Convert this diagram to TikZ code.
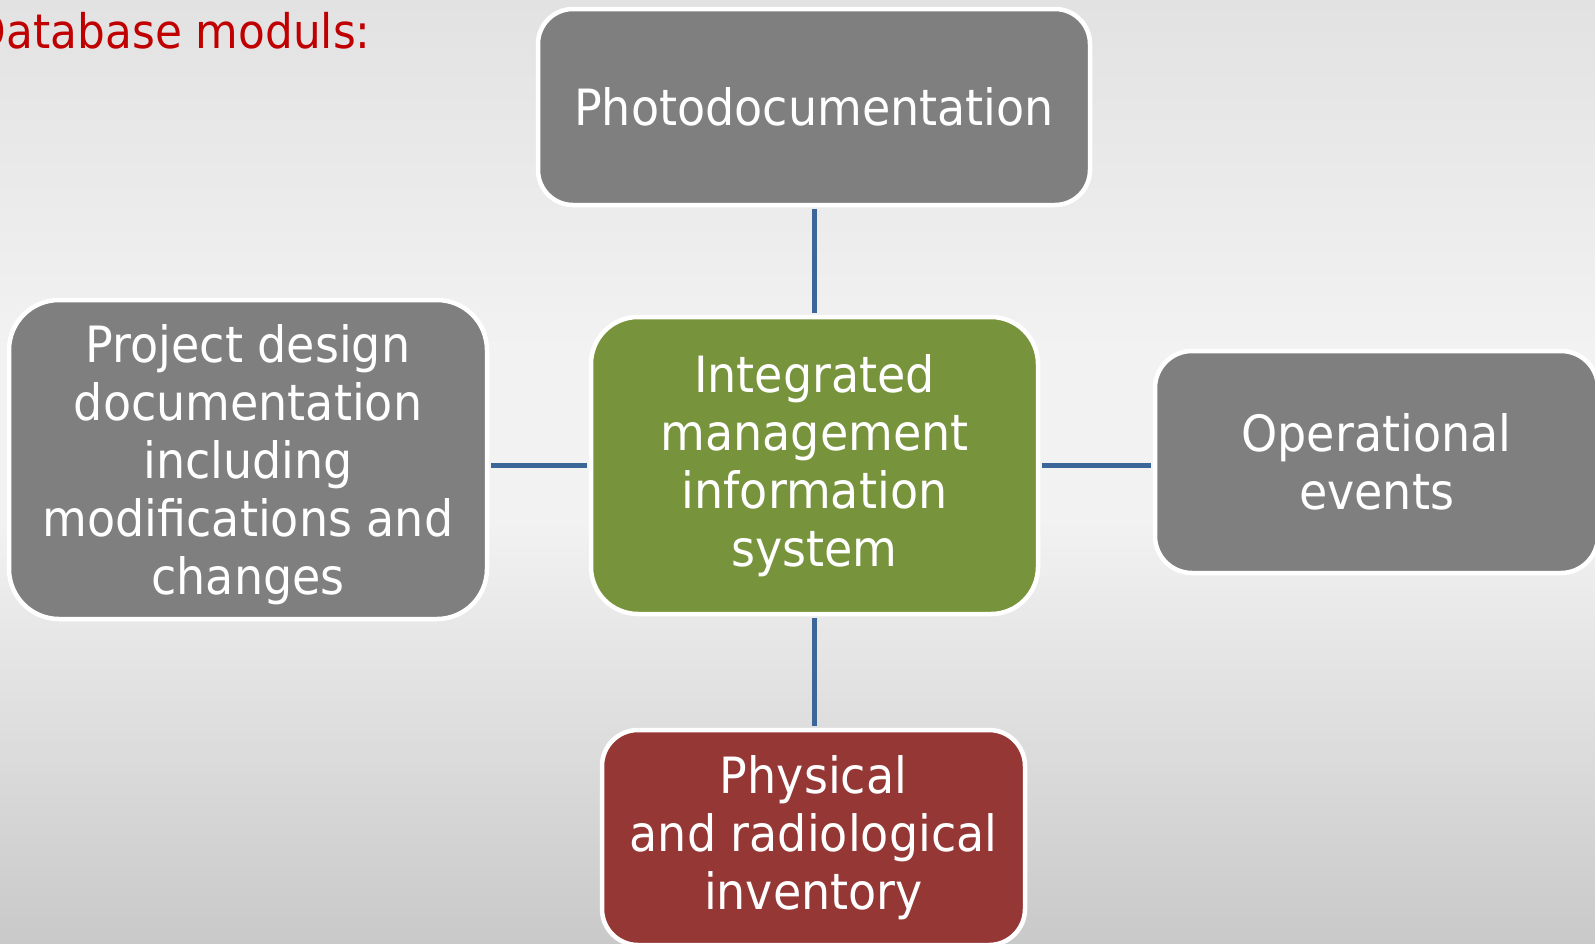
\documentclass[tikz,border=0pt]{standalone}
\usepackage{fontspec}
\setmainfont{DejaVu Sans}[FakeStretch=0.92]
\definecolor{boxgray}{RGB}{127,127,127}
\definecolor{boxgreen}{RGB}{119,147,60}
\definecolor{boxred}{RGB}{149,55,53}
\definecolor{titlered}{RGB}{192,0,0}
\definecolor{linkblue}{RGB}{60,102,152}
\definecolor{bgtop}{RGB}{226,226,226}
\definecolor{bgmid}{RGB}{242,242,242}
\definecolor{bgbot}{RGB}{201,201,201}
\tikzset{
  modbox/.style={draw=white, line width=2.25pt, rounded corners=#1, inner sep=0pt,
    align=center, text=white, font=\fontsize{25pt}{29pt}\selectfont},
  modbox/.default=18pt,
  link/.style={draw=linkblue, line width=2.75pt, shorten <=1pt, shorten >=1pt}
}
\begin{document}
\begin{tikzpicture}[x=0.5pt,y=-0.5pt]
\useasboundingbox (0,0) rectangle (1595,943);
% background
\fill[top color=bgtop, bottom color=bgmid, draw=none] (0,0) rectangle (1595,351);
\fill[bgmid] (0,350) rectangle (1595,521);
\fill[top color=bgmid, bottom color=bgbot, draw=none] (0,520) rectangle (1595,943);
% title
\node[anchor=base east, text=titlered, inner sep=0pt, font=\fontsize{23.8pt}{29pt}\selectfont] (title) at (371,48) {Database moduls:};
% boxes
\node[modbox=17.5pt, fill=boxgray, minimum width=276pt, minimum height=98pt] (top) at (814,107) {Photodocumentation};
\node[modbox=25pt, fill=boxgray, minimum width=239pt, minimum height=159.5pt, text depth=-2.5pt] (left) at (248,459.5) {Project design\\documentation\\including\\modifications and\\changes};
\node[modbox=23.5pt, fill=boxgreen, minimum width=223.5pt, minimum height=148.5pt] (center) at (814.5,465.5) {Integrated\\management\\information\\system};
\node[modbox=18.5pt, fill=boxgray, minimum width=221.5pt, minimum height=111pt] (right) at (1376.5,462) {Operational\\events};
\node[modbox=18pt, fill=boxred, minimum width=211.5pt, minimum height=107.5pt] (bottom) at (813.5,837.5) {Physical\\and radiological\\inventory};
% connectors
\draw[link] (top.south -| center.north) -- (center.north);
\draw[link] (center.south) -- (center.south |- bottom.north);
\draw[link] (left.east |- center.west) -- (center.west);
\draw[link] (center.east) -- (right.west |- center.east);
\end{tikzpicture}
\end{document}
